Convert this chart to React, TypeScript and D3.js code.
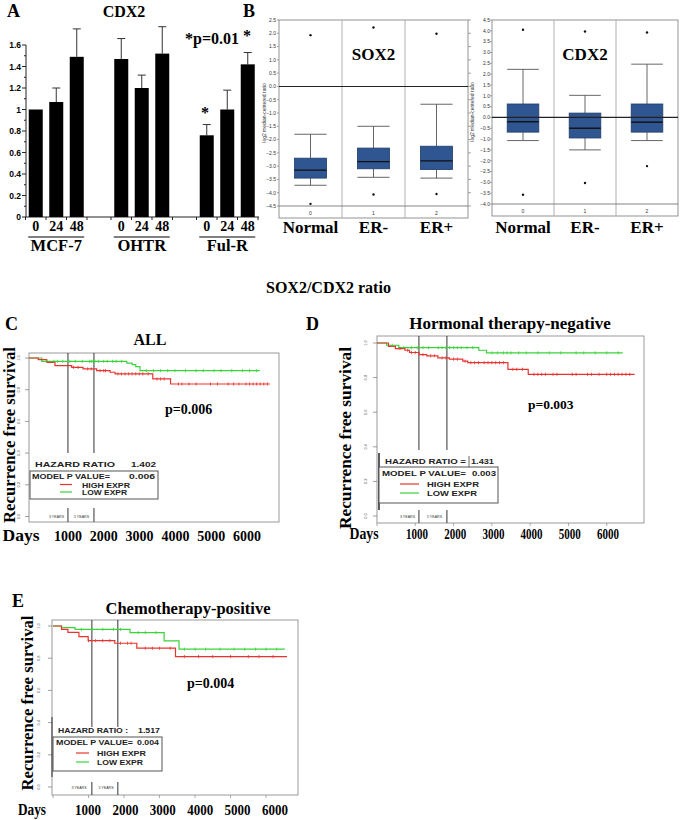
import React from "react";
import * as d3 from "d3";

const SERIF = "'Liberation Serif', 'Times New Roman', serif";
const SANS = "'Liberation Sans', Arial, sans-serif";

// ---------------- Panel A data ----------------
const cellLines = ["MCF-7", "OHTR", "Ful-R"];
const hours = ["0", "24", "48"];
const mcf7Cdx2 = [1.0, 1.07, 1.49];
const ohtrCdx2 = [1.47, 1.2, 1.52];
const fulrCdx2 = [0.76, 1.0, 1.42];
const mcf7Err = [0, 0.13, 0.26];
const ohtrErr = [0.19, 0.12, 0.25];
const fulrErr = [0.1, 0.18, 0.11];
const aTickValues = [0, 0.2, 0.4, 0.6, 0.8, 1, 1.2, 1.4, 1.6];
const aTickLabels = ["0", "0.2", "0.4", "0.6", "0.8", "1", "1.2", "1.4", "1.6"];
const aMinorTicks = [0.1, 0.3, 0.5, 0.7, 0.9, 1.1, 1.3, 1.5];

// ---------------- Panel B data ----------------
const tumorGroups = ["Normal", "ER-", "ER+"];
const tumorCodes = ["0", "1", "2"];
const sox2Low = [-3.72, -3.42, -3.45];
const sox2Q1 = [-3.45, -3.1, -3.13];
const sox2Median = [-3.15, -2.83, -2.8];
const sox2Q3 = [-2.7, -2.32, -2.25];
const sox2High = [-1.8, -1.5, -0.67];
const sox2Outliers = [[1.93, -4.42], [2.22, -4.07], [1.98, -4.05]];
const sox2Ticks = [2.5, 2.0, 1.5, 1.0, 0.5, 0.0, -0.5, -1.0, -1.5, -2.0, -2.5, -3.0, -3.5, -4.0, -4.5];
const cdx2Low = [-1.07, -1.5, -1.07];
const cdx2Q1 = [-0.68, -0.95, -0.68];
const cdx2Median = [-0.2, -0.5, -0.22];
const cdx2Q3 = [0.62, 0.2, 0.62];
const cdx2High = [2.22, 1.02, 2.46];
const cdx2Outliers = [[4.05, -3.57], [3.97, -3.03], [3.92, -2.25]];
const cdx2Ticks = [4.5, 4.0, 3.5, 3.0, 2.5, 2.0, 1.5, 1.0, 0.5, 0.0, -0.5, -1.0, -1.5, -2.0, -2.5, -3.0, -3.5, -4.0];

// ---------------- Survival data (day, survival) ----------------
const allHigh: [number, number][] = [[0, 1], [260, 0.99], [500, 0.973], [730, 0.952], [1200, 0.941], [1520, 0.931], [1900, 0.92], [2280, 0.91], [2420, 0.9], [3480, 0.868], [3980, 0.836], [6770, 0.836]];
const allLow: [number, number][] = [[0, 1], [360, 0.979], [2750, 0.968], [2900, 0.958], [3000, 0.945], [3120, 0.92], [6490, 0.92]];
const allHighCensor = [1250, 1380, 1650, 1750, 2000, 2100, 2150, 2500, 2600, 2700, 2800, 2900, 3000, 3100, 3200, 3350, 3600, 3700, 3800, 4200, 4300, 4500, 4700, 5100, 5300, 5600, 5750, 5900, 6100, 6200, 6300, 6400, 6500, 6600, 6700];
const allLowCensor = [500, 700, 800, 950, 1150, 1300, 1500, 1700, 1750, 1800, 1850, 1950, 2100, 2200, 2350, 2450, 2600, 3300, 3500, 3700, 3900, 4100, 4400, 4700, 4900, 5200, 5400, 5700, 6000, 6200, 6400];

const hnHigh: [number, number][] = [[0, 1], [300, 0.98], [480, 0.968], [730, 0.958], [850, 0.945], [1100, 0.933], [1300, 0.926], [1590, 0.914], [1890, 0.907], [2240, 0.895], [2370, 0.886], [3420, 0.848], [3950, 0.819], [6730, 0.819]];
const hnLow: [number, number][] = [[0, 1], [250, 0.987], [570, 0.973], [2660, 0.958], [2860, 0.943], [6420, 0.943]];
const hnHighCensor = [600, 800, 900, 1000, 1200, 1400, 1500, 1700, 1800, 2000, 2100, 2300, 2450, 2550, 2650, 2800, 2900, 3000, 3100, 3200, 3300, 3550, 3650, 3800, 4100, 4200, 4300, 4400, 4600, 4700, 5100, 5200, 5500, 5600, 5800, 6000, 6100, 6200, 6300, 6400, 6500, 6600];
const hnLowCensor = [400, 700, 900, 1050, 1200, 1350, 1600, 1700, 1800, 1900, 2000, 2100, 2200, 2350, 2500, 3000, 3150, 3300, 3400, 3500, 3700, 3900, 4200, 4500, 4800, 5200, 5400, 5700, 6000, 6300];

const cpHigh: [number, number][] = [[0, 1], [240, 0.979], [420, 0.96], [730, 0.934], [990, 0.909], [1740, 0.893], [2360, 0.862], [3450, 0.81], [6590, 0.81]];
const cpLow: [number, number][] = [[0, 1], [240, 0.99], [620, 0.979], [2170, 0.959], [3130, 0.907], [3550, 0.856], [6530, 0.856]];
const cpHighCensor = [1000, 1200, 1400, 1600, 1900, 2100, 2200, 2600, 2800, 3000, 3300, 3700, 4100, 4500, 5000, 5500, 5800, 6200];
const cpLowCensor = [800, 1100, 1400, 1700, 1900, 2400, 2600, 2900, 3700, 4000, 4300, 4700, 5100, 5400, 5700, 6000, 6300];

const survTicks = [0, 0.2, 0.4, 0.6, 0.8, 1.0];
const survTickLabels = ["0.0", "0.2", "0.4", "0.6", "0.8", "1.0"];
const dayLabels = [1000, 2000, 3000, 4000, 5000, 6000];
const axisDays = [0, 1000, 2000, 3000, 4000, 5000, 6000];
const yearMarks = [1095, 1826];
const hazardRatios = ["1.402", "1.431", "1.517"];
const modelPValues = ["0.006", "0.003", "0.004"];
const logRankP = ["p=0.006", "p=0.003", "p=0.004"];

// ---------------- Panel A ----------------
function PanelA() {
  const y = d3.scaleLinear().domain([0, 1.6]).range([217, 45]);
  const g = d3.scaleBand().domain(cellLines).range([13.5, 270]);
  const inner = d3.scalePoint().domain(hours).range([-20.5, 20.5]);
  const means = [mcf7Cdx2, ohtrCdx2, fulrCdx2];
  const errs = [mcf7Err, ohtrErr, fulrErr];
  const barW = 14;
  const cx = (gi: number, hi: number) => (g(cellLines[gi]) as number) + g.bandwidth() / 2 + (inner(hours[hi]) as number);
  const xTicks: number[] = [];
  cellLines.forEach((_, gi) => hours.forEach((__, hi) => {
    [cx(gi, hi) - 10.25, cx(gi, hi) + 10.25].forEach((t) => {
      if (!xTicks.some((v) => Math.abs(v - t) < 1)) xTicks.push(t);
    });
  }));
  return (
    <g>
      <text x={7} y={17} fontFamily={SERIF} fontWeight="bold" fontSize={18}>A</text>
      <text x={124} y={17} fontFamily={SERIF} fontWeight="bold" fontSize={16} textAnchor="middle">CDX2</text>
      <line x1={26} x2={26} y1={y(0)} y2={y(1.6)} stroke="#222" strokeWidth={1} />
      <line x1={26} x2={259} y1={y(0)} y2={y(0)} stroke="#222" strokeWidth={1} />
      {aTickValues.map((v, i) => (
        <g key={"at" + i}>
          <line x1={22} x2={26} y1={y(v)} y2={y(v)} stroke="#222" />
          <text x={21} y={y(v) + 3.2} textAnchor="end" fontFamily={SANS} fontWeight="bold" fontSize={8.5}>{aTickLabels[i]}</text>
        </g>
      ))}
      {aMinorTicks.map((v, i) => (
        <line key={"am" + i} x1={24} x2={26} y1={y(v)} y2={y(v)} stroke="#222" />
      ))}
      {xTicks.map((t, i) => (
        <line key={"xt" + i} x1={t} x2={t} y1={y(0)} y2={y(0) + 3} stroke="#222" />
      ))}
      {cellLines.map((cl, gi) => (
        <g key={cl}>
          {hours.map((h, hi) => {
            const m = means[gi][hi];
            const e = errs[gi][hi];
            const c = cx(gi, hi);
            return (
              <g key={h}>
                {e > 0 && (
                  <g stroke="#333" strokeWidth={1}>
                    <line x1={c} x2={c} y1={y(m)} y2={y(m + e)} />
                    <line x1={c - 4} x2={c + 4} y1={y(m + e)} y2={y(m + e)} />
                  </g>
                )}
                <rect x={c - barW / 2} y={y(m)} width={barW} height={y(0) - y(m)} fill="#000" />
                <text x={c} y={231} textAnchor="middle" fontFamily={SERIF} fontWeight="bold" fontSize={14}>{h}</text>
              </g>
            );
          })}
          <line x1={(g(cl) as number) + g.bandwidth() / 2 - 28} x2={(g(cl) as number) + g.bandwidth() / 2 + 28} y1={237} y2={237} stroke="#000" strokeWidth={1} />
          <text x={(g(cl) as number) + g.bandwidth() / 2} y={251} textAnchor="middle" fontFamily={SERIF} fontWeight="bold" fontSize={16.5}>{cl}</text>
        </g>
      ))}
      <text x={205} y={118} textAnchor="middle" fontFamily={SERIF} fontWeight="bold" fontSize={16}>*</text>
      <text x={185} y={44} fontFamily={SERIF} fontWeight="bold" fontSize={16}>*p=0.01</text>
      <text x={247} y={41} textAnchor="middle" fontFamily={SERIF} fontWeight="bold" fontSize={16}>*</text>
    </g>
  );
}

// ---------------- Panel B ----------------
type BoxProps = {
  x0: number; x1: number; yTop: number; yBottom: number; yStrip: number;
  domain: [number, number]; ticks: number[];
  low: number[]; q1: number[]; med: number[]; q3: number[]; high: number[]; outliers: number[][];
  title: string; labelRight: number; titleX: number; codeY: number; rightTicks: boolean;
};

function BoxPanel(p: BoxProps) {
  const y = d3.scaleLinear().domain(p.domain).range([p.yBottom, p.yTop]);
  const xb = d3.scaleBand().domain(tumorGroups).range([p.x0, p.x1]);
  const bw = xb.bandwidth() * 0.51;
  const fmt = d3.format(".1f");
  const mid = (y(p.domain[0]) + y(p.domain[1])) / 2;
  return (
    <g>
      {p.ticks.map((t, i) => (
        <g key={i}>
          <line x1={p.x0 - 2} x2={p.x0} y1={y(t)} y2={y(t)} stroke="#666" strokeWidth={0.6} />
          {p.rightTicks && <line x1={p.x1} x2={p.x1 + 3} y1={y(t)} y2={y(t)} stroke="#666" strokeWidth={0.6} />}
          <text x={p.labelRight} y={y(t) + 1.8} textAnchor="end" fontFamily={SANS} fontSize={5} fill="#333">{fmt(t)}</text>
        </g>
      ))}
      <text transform={`translate(${p.titleX},${mid}) rotate(-90)`} textAnchor="middle" fontFamily={SANS} fontSize={5} fill="#333">log2 median-centered ratio</text>
      <rect x={p.x0} y={p.yTop} width={p.x1 - p.x0} height={p.yStrip - p.yTop} fill="#fff" stroke="#888" strokeWidth={0.9} />
      {tumorGroups.slice(1).map((c) => (
        <line key={c} x1={xb(c)} x2={xb(c)} y1={p.yTop} y2={p.yStrip} stroke="#b0b0b0" strokeWidth={1} />
      ))}
      <line x1={p.x0} x2={p.x1} y1={p.yBottom} y2={p.yBottom} stroke="#777" strokeWidth={0.9} />
      {tumorGroups.map((c, i) => {
        const cx = (xb(c) as number) + xb.bandwidth() / 2;
        return (
          <g key={c}>
            <g stroke="#555" strokeWidth={0.9}>
              <line x1={cx} x2={cx} y1={y(p.q3[i])} y2={y(p.high[i])} />
              <line x1={cx} x2={cx} y1={y(p.q1[i])} y2={y(p.low[i])} />
              <line x1={cx - bw / 2} x2={cx + bw / 2} y1={y(p.high[i])} y2={y(p.high[i])} />
              <line x1={cx - bw / 2} x2={cx + bw / 2} y1={y(p.low[i])} y2={y(p.low[i])} />
            </g>
            <rect x={cx - bw / 2} y={y(p.q3[i])} width={bw} height={y(p.q1[i]) - y(p.q3[i])} fill="#2f5690" stroke="#1f3d6b" strokeWidth={0.8} />
            <line x1={cx - bw / 2} x2={cx + bw / 2} y1={y(p.med[i])} y2={y(p.med[i])} stroke="#111" strokeWidth={1.4} />
            {p.outliers[i].map((o, j) => (
              <circle key={j} cx={cx} cy={y(o)} r={1.2} fill="#111" />
            ))}
            <text x={cx} y={p.codeY} textAnchor="middle" fontFamily={SANS} fontSize={5} fill="#333">{tumorCodes[i]}</text>
            <text x={cx} y={233} textAnchor="middle" fontFamily={SERIF} fontWeight="bold" fontSize={17}>{c}</text>
          </g>
        );
      })}
      <line x1={p.x0} x2={p.x1} y1={y(0)} y2={y(0)} stroke="#222" strokeWidth={1.1} />
      <text x={(xb("ER-") as number) + xb.bandwidth() / 2} y={60} textAnchor="middle" fontFamily={SERIF} fontWeight="bold" fontSize={17}>{p.title}</text>
    </g>
  );
}

// ---------------- KM panels ----------------
type KMCfg = {
  frame: [number, number, number, number];
  xDomain: [number, number]; xRange: [number, number]; yRange: [number, number];
  tickLabelX: number;
  letter: { t: string; x: number; y: number };
  title: { t: string; x: number; y: number; size: number };
  pText: { x: number; y: number; size: number };
  ylabel: { x: number; y: number; len: number };
  days: { x: number; y: number; len: number };
  dayLabelRange: [number, number]; dayLabelLen: number;
  yearLine: { top: number; bottom: number; segTop: number; segBottom: number };
  years: { y: number; x3: number; x5: number };
  axisTicks: boolean;
  lg: {
    hrLabel: string; hrX: number; hrY: number; hrW: number; hrValX: number; hrValW: number;
    box: [number, number, number, number];
    pX: number; pY: number; pW: number; pValX: number; pValW: number;
    lineX0: number; lineX1: number; redY: number; greenY: number;
    textX: number; highY: number; highW: number; lowY: number; lowW: number;
    leftBar: [number, number, number, number] | null;
    smallBar: [number, number, number] | null;
  };
};

const cfgC: KMCfg = {
  frame: [29, 353, 279, 522], xDomain: [0, 7000], xRange: [29, 278], yRange: [516.5, 358],
  tickLabelX: 20,
  letter: { t: "C", x: 5, y: 330 },
  title: { t: "ALL", x: 150, y: 345, size: 16 },
  pText: { x: 165, y: 414, size: 14 },
  ylabel: { x: 15, y: 435, len: 176 },
  days: { x: 21, y: 541, len: 37 },
  dayLabelRange: [68, 247], dayLabelLen: 28,
  yearLine: { top: 353, bottom: 453, segTop: 508, segBottom: 522 },
  years: { y: 517.5, x3: 56.5, x5: 81.5 },
  axisTicks: false,
  lg: {
    hrLabel: "HAZARD RATIO", hrX: 35, hrY: 467, hrW: 80, hrValX: 131, hrValW: 25,
    box: [30, 471, 158, 499],
    pX: 32, pY: 478.5, pW: 78, pValX: 129, pValW: 26,
    lineX0: 60, lineX1: 72, redY: 484.5, greenY: 492,
    textX: 82, highY: 487.5, highW: 48, lowY: 495, lowW: 45,
    leftBar: null, smallBar: null,
  },
};

const cfgD: KMCfg = {
  frame: [377, 336, 644, 523], xDomain: [0, 7000], xRange: [377, 645], yRange: [516, 343],
  tickLabelX: 367,
  letter: { t: "D", x: 306, y: 330 },
  title: { t: "Hormonal therapy-negative", x: 510, y: 329, size: 17 },
  pText: { x: 528, y: 409, size: 13.5 },
  ylabel: { x: 351, y: 438, len: 182 },
  days: { x: 364, y: 539, len: 29 },
  dayLabelRange: [417, 608], dayLabelLen: 22,
  yearLine: { top: 336, bottom: 450, segTop: 510, segBottom: 523 },
  years: { y: 517.5, x3: 407.5, x5: 434.5 },
  axisTicks: true,
  lg: {
    hrLabel: "HAZARD RATIO =", hrX: 385, hrY: 464, hrW: 81, hrValX: 471, hrValW: 23,
    box: [379, 467, 498, 503],
    pX: 382, pY: 476, pW: 84, pValX: 472, pValW: 24,
    lineX0: 400, lineX1: 419, redY: 484, greenY: 493,
    textX: 427, highY: 487, highW: 52, lowY: 496, lowW: 50,
    leftBar: [379, 453, 510, 1.6], smallBar: [469, 456, 467],
  },
};

const cfgE: KMCfg = {
  frame: [52, 620, 298, 795], xDomain: [0, 6900], xRange: [53, 298], yRange: [787, 626],
  tickLabelX: 40,
  letter: { t: "E", x: 12, y: 607 },
  title: { t: "Chemotherapy-positive", x: 188, y: 614, size: 16.5 },
  pText: { x: 187, y: 688, size: 14 },
  ylabel: { x: 33, y: 703, len: 175 },
  days: { x: 32, y: 815, len: 28 },
  dayLabelRange: [88, 275], dayLabelLen: 26,
  yearLine: { top: 620, bottom: 727, segTop: 782, segBottom: 795 },
  years: { y: 789, x3: 79, x5: 106 },
  axisTicks: true,
  lg: {
    hrLabel: "HAZARD RATIO :", hrX: 58, hrY: 733, hrW: 70, hrValX: 138, hrValW: 22,
    box: [53, 737, 162, 771],
    pX: 56, pY: 745, pW: 77, pValX: 137, pValW: 22,
    lineX0: 76, lineX1: 89, redY: 753, greenY: 762,
    textX: 97, highY: 756, highW: 49, lowY: 764.5, lowW: 46,
    leftBar: [52, 717, 777, 1], smallBar: null,
  },
};

const RED = "#e8342f";
const GREEN = "#3ad33a";

function survAt(curve: [number, number][], t: number) {
  let v = 1;
  for (const [tt, s] of curve) if (tt <= t) v = s;
  return v;
}

function KMPanel({ cfg, idx, high, low, highCensor, lowCensor }: {
  cfg: KMCfg; idx: number; high: [number, number][]; low: [number, number][]; highCensor: number[]; lowCensor: number[];
}) {
  const x = d3.scaleLinear().domain(cfg.xDomain).range(cfg.xRange);
  const y = d3.scaleLinear().domain([0, 1]).range(cfg.yRange);
  const lbl = d3.scaleLinear().domain([1000, 6000]).range(cfg.dayLabelRange);
  const line = d3.line<[number, number]>().x((d) => x(d[0])).y((d) => y(d[1])).curve(d3.curveStepAfter);
  const [fx0, fy0, fx1, fy1] = cfg.frame;
  const lg = cfg.lg;
  const lt = { fontFamily: SANS, fontWeight: "bold" as const, fontSize: 7, fill: "#222", lengthAdjust: "spacingAndGlyphs" as const };
  return (
    <g>
      <text x={cfg.letter.x} y={cfg.letter.y} fontFamily={SERIF} fontWeight="bold" fontSize={18}>{cfg.letter.t}</text>
      <text x={cfg.title.x} y={cfg.title.y} textAnchor="middle" fontFamily={SERIF} fontWeight="bold" fontSize={cfg.title.size}>{cfg.title.t}</text>
      <text transform={`translate(${cfg.ylabel.x},${cfg.ylabel.y}) rotate(-90)`} textAnchor="middle" fontFamily={SERIF} fontWeight="bold" fontSize={17} textLength={cfg.ylabel.len} lengthAdjust="spacingAndGlyphs">Recurrence free survival</text>
      <rect x={fx0} y={fy0} width={fx1 - fx0} height={fy1 - fy0} fill="#fff" stroke="#9a9a9a" strokeWidth={1} />
      {survTicks.map((t, i) => (
        <g key={i}>
          <line x1={fx0 - 4} x2={fx0} y1={y(t)} y2={y(t)} stroke="#777" strokeWidth={0.7} />
          <text transform={`translate(${cfg.tickLabelX},${y(t)}) rotate(-90)`} textAnchor="middle" fontFamily={SANS} fontSize={4} fill="#555">{survTickLabels[i]}</text>
        </g>
      ))}
      {cfg.axisTicks && axisDays.map((d) => (
        <line key={d} x1={x(d)} x2={x(d)} y1={fy1} y2={fy1 + 3} stroke="#888" strokeWidth={0.7} />
      ))}
      {yearMarks.map((d) => (
        <g key={d} stroke="#333" strokeWidth={1}>
          <line x1={x(d)} x2={x(d)} y1={cfg.yearLine.top} y2={cfg.yearLine.bottom} />
          <line x1={x(d)} x2={x(d)} y1={cfg.yearLine.segTop} y2={cfg.yearLine.segBottom} />
        </g>
      ))}
      <text x={cfg.years.x3} y={cfg.years.y} textAnchor="middle" fontFamily={SANS} fontSize={3.6} fill="#333">3 YEARS</text>
      <text x={cfg.years.x5} y={cfg.years.y} textAnchor="middle" fontFamily={SANS} fontSize={3.6} fill="#333">5 YEARS</text>
      <path d={line(low) || ""} fill="none" stroke={GREEN} strokeWidth={1.2} />
      <path d={line(high) || ""} fill="none" stroke={RED} strokeWidth={1.2} />
      {lowCensor.map((t, i) => (
        <line key={"lc" + i} x1={x(t)} x2={x(t)} y1={y(survAt(low, t)) - 1.6} y2={y(survAt(low, t)) + 1.6} stroke={GREEN} strokeWidth={0.8} />
      ))}
      {highCensor.map((t, i) => (
        <line key={"hc" + i} x1={x(t)} x2={x(t)} y1={y(survAt(high, t)) - 1.6} y2={y(survAt(high, t)) + 1.6} stroke={RED} strokeWidth={0.8} />
      ))}
      {/* legend */}
      <text x={lg.hrX} y={lg.hrY} textLength={lg.hrW} {...lt}>{lg.hrLabel}</text>
      <text x={lg.hrValX} y={lg.hrY} textLength={lg.hrValW} {...lt}>{hazardRatios[idx]}</text>
      {lg.smallBar && <line x1={lg.smallBar[0]} x2={lg.smallBar[0]} y1={lg.smallBar[1]} y2={lg.smallBar[2]} stroke="#444" strokeWidth={0.8} />}
      {lg.leftBar && <line x1={lg.leftBar[0]} x2={lg.leftBar[0]} y1={lg.leftBar[1]} y2={lg.leftBar[2]} stroke="#333" strokeWidth={lg.leftBar[3]} />}
      <rect x={lg.box[0]} y={lg.box[1]} width={lg.box[2] - lg.box[0]} height={lg.box[3] - lg.box[1]} fill="#fff" stroke="#555" strokeWidth={1} />
      <text x={lg.pX} y={lg.pY} textLength={lg.pW} {...lt}>MODEL P VALUE=</text>
      <text x={lg.pValX} y={lg.pY} textLength={lg.pValW} {...lt}>{modelPValues[idx]}</text>
      <line x1={lg.lineX0} x2={lg.lineX1} y1={lg.redY} y2={lg.redY} stroke={RED} strokeWidth={1.2} />
      <line x1={lg.lineX0} x2={lg.lineX1} y1={lg.greenY} y2={lg.greenY} stroke={GREEN} strokeWidth={1.2} />
      <text x={lg.textX} y={lg.highY} textLength={lg.highW} {...lt}>HIGH EXPR</text>
      <text x={lg.textX} y={lg.lowY} textLength={lg.lowW} {...lt}>LOW EXPR</text>
      <text x={cfg.pText.x} y={cfg.pText.y} fontFamily={SERIF} fontWeight="bold" fontSize={cfg.pText.size}>{logRankP[idx]}</text>
      <text x={cfg.days.x} y={cfg.days.y} textAnchor="middle" fontFamily={SERIF} fontWeight="bold" fontSize={16} textLength={cfg.days.len} lengthAdjust="spacingAndGlyphs">Days</text>
      {dayLabels.map((d) => (
        <text key={d} x={lbl(d)} y={cfg.days.y} textAnchor="middle" fontFamily={SERIF} fontWeight="bold" fontSize={15} textLength={cfg.dayLabelLen} lengthAdjust="spacingAndGlyphs">{d}</text>
      ))}
    </g>
  );
}

export default function App() {
  return (
    <svg width={685} height={820} viewBox="0 0 685 820" style={{ position: "absolute", left: 0, top: 0, background: "#fff" }} xmlns="http://www.w3.org/2000/svg">
      <rect width={685} height={820} fill="#fff" />
      <PanelA />
      <text x={243} y={17} fontFamily={SERIF} fontWeight="bold" fontSize={18}>B</text>
      <BoxPanel x0={279} x1={468} yTop={20} yBottom={206} yStrip={218} domain={[-4.5, 2.5]} ticks={sox2Ticks}
        low={sox2Low} q1={sox2Q1} med={sox2Median} q3={sox2Q3} high={sox2High} outliers={sox2Outliers}
        title="SOX2" labelRight={276} titleX={266} codeY={215} rightTicks={true} />
      <BoxPanel x0={492} x1={678} yTop={20} yBottom={204} yStrip={216} domain={[-4.0, 4.5]} ticks={cdx2Ticks}
        low={cdx2Low} q1={cdx2Q1} med={cdx2Median} q3={cdx2Q3} high={cdx2High} outliers={cdx2Outliers}
        title="CDX2" labelRight={490} titleX={474} codeY={213} rightTicks={false} />
      <text x={266} y={293} fontFamily={SERIF} fontWeight="bold" fontSize={16}>SOX2/CDX2 ratio</text>
      <KMPanel cfg={cfgC} idx={0} high={allHigh} low={allLow} highCensor={allHighCensor} lowCensor={allLowCensor} />
      <KMPanel cfg={cfgD} idx={1} high={hnHigh} low={hnLow} highCensor={hnHighCensor} lowCensor={hnLowCensor} />
      <KMPanel cfg={cfgE} idx={2} high={cpHigh} low={cpLow} highCensor={cpHighCensor} lowCensor={cpLowCensor} />
    </svg>
  );
}
